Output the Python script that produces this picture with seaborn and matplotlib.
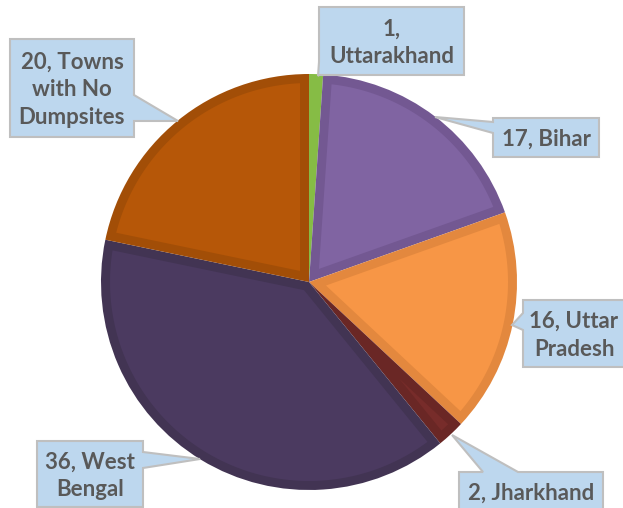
import matplotlib
matplotlib.use("Agg")
import numpy as np
import matplotlib.pyplot as plt
import seaborn as sns
from matplotlib.patches import Polygon

# data
regions = ["Uttarakhand", "Bihar", "Uttar Pradesh", "Jharkhand", "West Bengal", "Towns with No Dumpsites"]
counts = [1, 17, 16, 2, 36, 20]
label_texts = ["1,\nUttarakhand", "17, Bihar", "16, Uttar\nPradesh", "2, Jharkhand",
               "36, West\nBengal", "20, Towns\nwith No\nDumpsites"]
face_colors = ["#86BC45", "#8064A2", "#F79646", "#772C2A", "#4B3A60", "#B65708"]
edge_colors = ["#7DAF40", "#735892", "#E3883E", "#6A2725", "#423453", "#A24E07"]

sns.set_theme(style="white")
plt.rcParams['font.family'] = ['Lato', 'DejaVu Sans']

W, H = 623, 508
fig = plt.figure(figsize=(W / 100, H / 100), dpi=100)
ax = fig.add_axes([0, 0, 1, 1])

cx, cy, r = 309, H - 282, 208
border = 9

# outer layer in the darker border colours
wedges, _ = ax.pie(counts, startangle=90, counterclock=False, center=(cx, cy), radius=r,
                   colors=edge_colors, frame=True, wedgeprops=dict(linewidth=0))

# inner (lighter) part of each slice, inset by the border width
for w, fc, ec in zip(wedges, face_colors, edge_colors):
    t1, t2 = np.radians(w.theta1), np.radians(w.theta2)
    h = (t2 - t1) / 2
    tb = (t1 + t2) / 2
    dist = border / np.sin(h)
    R = r - border
    if dist >= R - 2:
        w.set_facecolor(fc)
        continue
    v = np.array([np.cos(tb), np.sin(tb)]) * dist
    ends = []
    for t in (t1, t2):
        e = np.array([np.cos(t), np.sin(t)])
        ve = v @ e
        s = -ve + np.sqrt(ve ** 2 - v @ v + R ** 2)
        p = v + s * e
        ends.append(np.arctan2(p[1], p[0]))
    a1, a2 = ends
    if a2 < a1:
        a2 += 2 * np.pi
    arc = np.linspace(a1, a2, 100)
    pts = [(cx + v[0], cy + v[1])] + [(cx + R * np.cos(a), cy + R * np.sin(a)) for a in arc]
    ax.add_patch(Polygon(pts, closed=True, facecolor=fc, edgecolor="none", zorder=2))

ax.set_xlim(0, W)
ax.set_ylim(0, H)
ax.axis("off")


def callout(box, side, base, tip, text, tx=None):
    # box = (x0, y0, x1, y1) in pixels from top-left
    x0, y0, x1, y1 = box
    a, b = base
    if side == "right":
        pts = [(x0, y0), (x1, y0), (x1, a), tip, (x1, b), (x1, y1), (x0, y1)]
    elif side == "left":
        pts = [(x0, y0), (x1, y0), (x1, y1), (x0, y1), (x0, b), tip, (x0, a)]
    elif side == "top":
        pts = [(x0, y0), (a, y0), tip, (b, y0), (x1, y0), (x1, y1), (x0, y1)]
    pts = [(x, H - y) for x, y in pts]
    ax.add_patch(Polygon(pts, closed=True, facecolor="#BDD7EE", edgecolor="#BFBFBF",
                         linewidth=1.5, zorder=5, clip_on=False))
    if tx is None:
        tx = (x0 + x1) / 2
    ax.text(tx, H - (y0 + y1) / 2 - 2, text, ha="center", va="center",
            fontsize=16, fontweight="bold", color="#595959", linespacing=1.4, zorder=6)


callout((319, 7, 464, 75), "left", (62, 75), (318, 76), label_texts[0])
callout((493, 118, 599, 157), "left", (122, 133), (435, 117), label_texts[1])
callout((523, 300, 640, 367), "left", (313, 330), (512, 325), label_texts[2], tx=574)
callout((459, 472, 603, 510), "top", (483, 518), (452, 435), label_texts[3])
callout((37, 441, 143, 507), "right", (452, 468), (200, 459), label_texts[4])
callout((10, 39, 134, 137), "right", (95, 121), (178, 121), label_texts[5])

fig.savefig("out.png", dpi=100)
